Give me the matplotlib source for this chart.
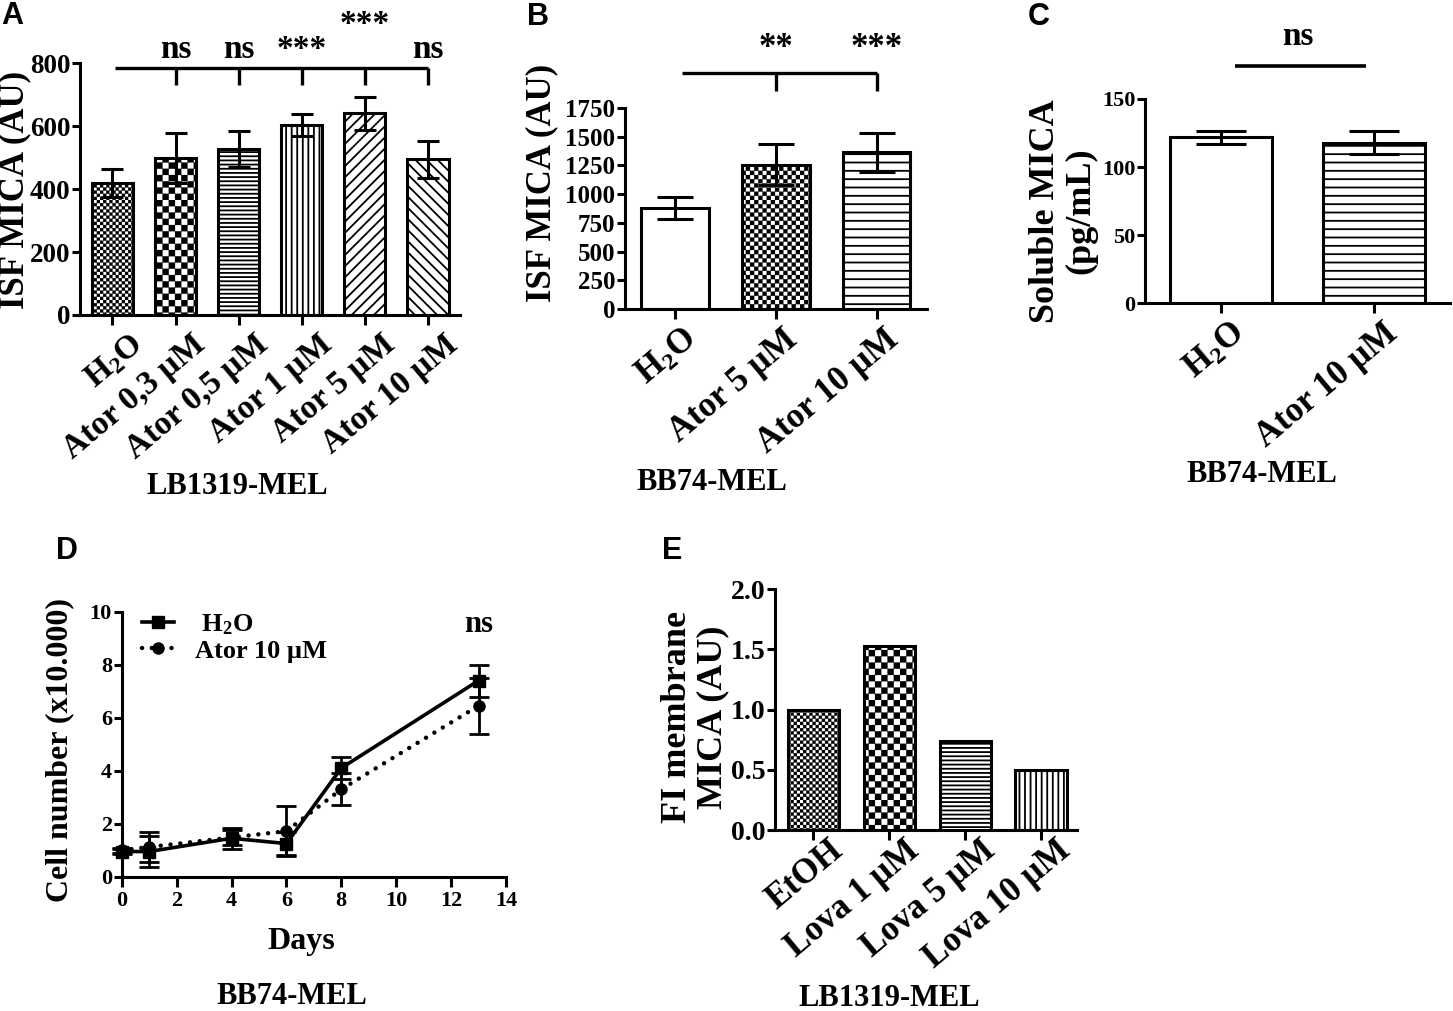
import warnings
warnings.filterwarnings('ignore')
import numpy as np
import matplotlib
matplotlib.use('Agg')
import matplotlib.pyplot as plt
import matplotlib.hatch as mhatch
from matplotlib.path import Path
from matplotlib.transforms import ScaledTranslation

# ---------------- data ----------------
a_labels = ['H$_2$O', 'Ator 0,3 µM', 'Ator 0,5 µM', 'Ator 1 µM', 'Ator 5 µM', 'Ator 10 µM']
a_means = [420, 498, 527, 604, 641, 495]
a_errs = [45, 80, 58, 36, 52, 58]
a_sig = ['', 'ns', 'ns', '***', '***', 'ns']

b_labels = ['H$_2$O', 'Ator 5 µM', 'Ator 10 µM']
b_means = [877, 1256, 1364]
b_errs = [95, 180, 172]
b_sig = ['', '**', '***']

c_labels = ['H$_2$O', 'Ator 10 µM']
c_means = [122, 118]
c_errs = [4.8, 8.3]

d_days = [0, 1, 4, 6, 8, 13]
d_h2o = [0.95, 0.95, 1.45, 1.25, 4.1, 7.4]
d_h2o_err = [0.1, 0.6, 0.4, 0.43, 0.43, 0.6]
d_ator = [1.0, 1.12, 1.48, 1.72, 3.3, 6.45]
d_ator_err = [0.1, 0.55, 0.3, 0.95, 0.6, 1.05]

e_labels = ['EtOH', 'Lova 1 µM', 'Lova 5 µM', 'Lova 10 µM']
e_values = [1.0, 1.53, 0.74, 0.5]

# ---------------- custom checkerboard hatch ----------------
class CheckerHatch(mhatch.HatchPatternBase):
    def __init__(self, hatch, density):
        self.n = hatch.count('c')
        self.num_vertices = 2 * self.n * self.n * 5 if self.n else 0

    def set_vertices_and_codes(self, vertices, codes):
        n = self.n
        s = 1.0 / (2 * n)
        sq = np.array([[0, 0], [s, 0], [s, s], [0, s], [0, 0]], float)
        parts = []
        for j in range(2 * n):
            for i in range(n):
                x0 = (2 * i + (j % 2)) * s
                parts.append(sq + [x0, j * s])
        vertices[:] = np.concatenate(parts)
        c = np.array([Path.MOVETO, Path.LINETO, Path.LINETO, Path.LINETO, Path.CLOSEPOLY])
        codes[:] = np.tile(c, 2 * n * n)

mhatch._hatch_types.append(CheckerHatch)

# ---------------- style ----------------
plt.rcParams['font.family'] = ['Liberation Serif', 'DejaVu Serif']
plt.rcParams['font.weight'] = 'bold'
plt.rcParams['mathtext.fontset'] = 'custom'
plt.rcParams['mathtext.rm'] = 'Liberation Serif:bold'
plt.rcParams['mathtext.it'] = 'Liberation Serif:bold'
plt.rcParams['mathtext.bf'] = 'Liberation Serif:bold'
plt.rcParams['mathtext.default'] = 'rm'
plt.rcParams['hatch.linewidth'] = 1.3

W, H = 1453, 1011
fig = plt.figure(figsize=(W / 100, H / 100), dpi=100)
fig.patch.set_facecolor('white')

LW = 2.2
ROT = 40


def add_ax(l, t, r, b):
    return fig.add_axes([l / W, 1 - b / H, (r - l) / W, (b - t) / H])


def ftext(x, y, s, **kw):
    fig.text(x / W, 1 - y / H, s, **kw)


def style(ax, ysize, xsize):
    for s in ['top', 'right']:
        ax.spines[s].set_visible(False)
    for s in ['left', 'bottom']:
        ax.spines[s].set_linewidth(LW)
    ax.tick_params(axis='y', width=LW, length=6, labelsize=ysize, pad=1)
    ax.tick_params(axis='x', width=LW, length=7, labelsize=xsize, pad=3)


def bars(ax, means, errs, width, hatches, capsize):
    x = np.arange(len(means))
    bb = ax.bar(x, means, width, color='white', edgecolor='black', linewidth=LW, zorder=2)
    for p, h in zip(bb, hatches):
        if h:
            p.set_hatch(h)
            try:
                p.set_hatch_linewidth(0.15 if 'c' in h else 1.3)
            except AttributeError:
                pass
    if errs is not None:
        ax.errorbar(x, means, yerr=errs, fmt='none', ecolor='black', elinewidth=LW,
                    capsize=capsize, capthick=LW, zorder=3)
    return x


def xlabels(ax, labels, size, dx, dy):
    ax.set_xticks(np.arange(len(labels)))
    ax.set_xticklabels(labels, rotation=ROT, ha='right', va='top', rotation_mode='anchor',
                       fontsize=size)
    off = ScaledTranslation(dx / 100, dy / 100, fig.dpi_scale_trans)
    for lab in ax.get_xticklabels():
        lab.set_transform(lab.get_transform() + off)


FINE = 'c' * 16
COARSE = 'c' * 8
MED = 'c' * 12

# ---------------- Panel A ----------------
axA = add_ax(80, 63.3, 460, 315)
style(axA, 19.5, 24)
bars(axA, a_means, a_errs, 0.65, [FINE, COARSE, '----', '|||', '///', '\\\\\\'], 8)
axA.set_xlim(-0.515, 5.507)
axA.set_ylim(0, 800)
axA.set_yticks([0, 200, 400, 600, 800])
xlabels(axA, a_labels, 24, 16, 0)
axA.plot([0.04, 5], [785, 785], color='black', lw=2.4, clip_on=False, solid_capstyle='butt')
for i in range(1, 6):
    axA.plot([i, i], [785, 731], color='black', lw=2.4, clip_on=False, solid_capstyle='butt')
for i, s in enumerate(a_sig):
    if s:
        yb = 896 if i == 4 else 817
        axA.text(i, yb, s, ha='center', va='baseline', fontsize=24, clip_on=False)

# ---------------- Panel B ----------------
axB = add_ax(625, 108, 927, 309)
style(axB, 18, 25)
bars(axB, b_means, b_errs, 0.67, [None, MED, '--'], 13)
axB.set_xlim(-0.495, 2.5)
axB.set_ylim(0, 1750)
axB.set_yticks(np.arange(0, 1751, 250))
xlabels(axB, b_labels, 25, 7, 0)
axB.plot([0.07, 2], [2052, 2052], color='black', lw=2.4, clip_on=False, solid_capstyle='butt')
for i in (1, 2):
    axB.plot([i, i], [2052, 1901], color='black', lw=2.4, clip_on=False, solid_capstyle='butt')
for i, s in enumerate(b_sig):
    if s:
        axB.text(i, 2194, s, ha='center', va='baseline', fontsize=25, clip_on=False)

# ---------------- Panel C ----------------
axC = add_ax(1145, 99, 1450, 303.3)
style(axC, 16, 25)
bars(axC, c_means, c_errs, 0.667, [None, '--'], 18)
axC.set_xlim(-0.497, 1.497)
axC.set_ylim(0, 150)
axC.set_yticks([0, 50, 100, 150])
xlabels(axC, c_labels, 25, 9, 0)
axC.plot([0.09, 0.95], [174, 174], color='black', lw=2.6, clip_on=False, solid_capstyle='butt')
axC.text(0.5, 190, 'ns', ha='center', va='baseline', fontsize=24, clip_on=False)

# ---------------- Panel D ----------------
axD = add_ax(121.7, 611.7, 506, 876.7)
style(axD, 16, 16)
axD.set_xlim(0, 14)
axD.set_ylim(0, 10)
axD.set_xticks(np.arange(0, 15, 2))
axD.set_yticks(np.arange(0, 11, 2))
axD.errorbar(d_days, d_h2o, yerr=d_h2o_err, fmt='none', ecolor='black', elinewidth=2,
             capsize=7, capthick=2, zorder=3, clip_on=False)
axD.errorbar(d_days, d_ator, yerr=d_ator_err, fmt='none', ecolor='black', elinewidth=2,
             capsize=7, capthick=2, zorder=3, clip_on=False)
l1, = axD.plot(d_days, d_h2o, color='black', lw=2.6, marker='s', ms=9, zorder=4,
               clip_on=False, label=' H$_2$O')
l2, = axD.plot(d_days, d_ator, color='black', lw=3.2, ls=(0, (0.01, 2.2)),
               dash_capstyle='round', marker='o', ms=8, zorder=4, clip_on=False,
               label='Ator 10 µM')
axD.legend(handles=[l1, l2], loc='upper left', bbox_to_anchor=(142 / W, 1 - 612 / H),
           bbox_transform=fig.transFigure, frameon=False, fontsize=19, handlelength=1.2,
           numpoints=1, handletextpad=0.8, labelspacing=0.1, borderpad=0, borderaxespad=0)
axD.text(13, 9.23, 'ns', ha='center', va='baseline', fontsize=22, clip_on=False)

# ---------------- Panel E ----------------
axE = add_ax(775, 589.3, 1077, 830)
style(axE, 20, 25)
axE.tick_params(axis='x', pad=0)
bars(axE, e_values, None, 0.68, [FINE, COARSE, '----', '|||'], 0)
axE.set_xlim(-0.507, 3.47)
axE.set_ylim(0, 2.0)
axE.set_yticks([0.0, 0.5, 1.0, 1.5, 2.0])
axE.set_yticklabels(['0.0', '0.5', '1.0', '1.5', '2.0'])
xlabels(axE, e_labels, 25, 15, 6)

# ---------------- labels ----------------
ftext(15, 190, 'ISF MICA (AU)', rotation=90, ha='center', va='center', fontsize=25)
ftext(542, 183, 'ISF MICA (AU)', rotation=90, ha='center', va='center', fontsize=25)
ftext(1063, 211, 'Soluble MICA\n(pg/mL)', rotation=90, ha='center', va='center',
      fontsize=26, linespacing=1.1, multialignment='center')
ftext(60, 750, 'Cell number (x10.000)', rotation=90, ha='center', va='center', fontsize=23)
ftext(695, 717, 'FI membrane\nMICA (AU)', rotation=90, ha='center', va='center',
      fontsize=26, linespacing=1.1, multialignment='center')

ftext(301, 942, 'Days', ha='center', va='center', fontsize=23)
ftext(237, 486, 'LB1319-MEL', ha='center', va='center', fontsize=22)
ftext(712, 482, 'BB74-MEL', ha='center', va='center', fontsize=22)
ftext(1262, 475, 'BB74-MEL', ha='center', va='center', fontsize=22)
ftext(292, 996, 'BB74-MEL', ha='center', va='center', fontsize=22)
ftext(889, 998, 'LB1319-MEL', ha='center', va='center', fontsize=22)

for s, x, y in [('A', 12, 16), ('B', 538, 17), ('C', 1039, 17), ('D', 67, 551), ('E', 672, 551)]:
    ftext(x, y, s, ha='center', va='center', fontsize=22, family='Liberation Sans',
          weight='bold')

fig.savefig('out.png', dpi=100, facecolor='white')
